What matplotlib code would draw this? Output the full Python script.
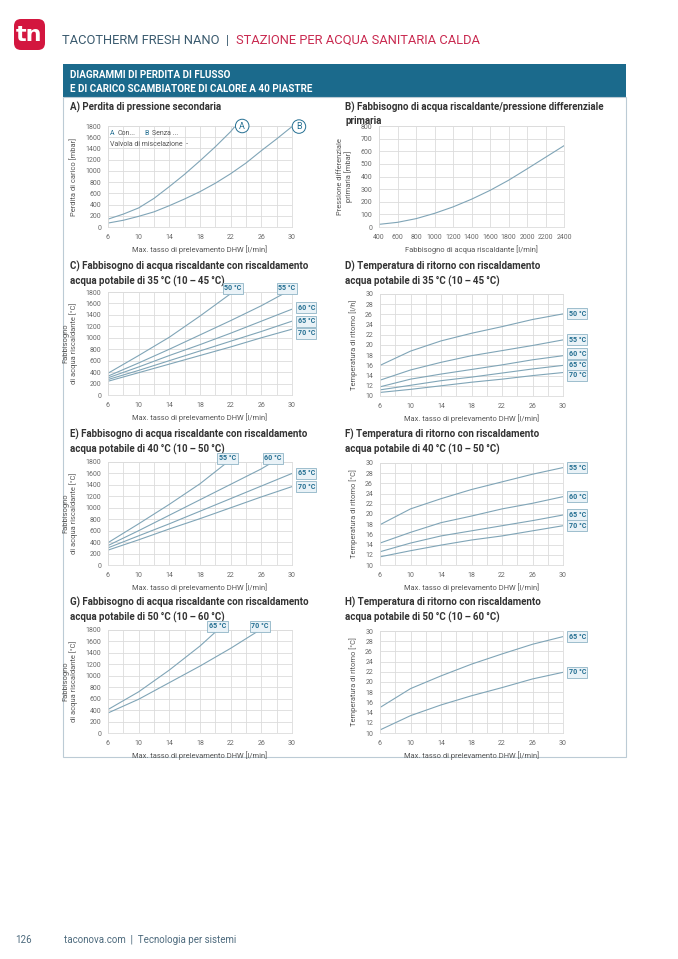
import matplotlib
matplotlib.use('Agg')
import matplotlib.pyplot as plt
from matplotlib import font_manager
from matplotlib.patches import Rectangle, FancyBboxPatch

# page size in pixels
W, H = 678, 959

names = {f.name for f in font_manager.fontManager.ttflist}
FONT = 'Liberation Sans Narrow' if 'Liberation Sans Narrow' in names else 'Roboto'
plt.rcParams['font.family'] = [FONT, 'DejaVu Sans']

LINE = '#80a5b7'
GRID = '#dcdcdc'
TXT = '#333333'
TICK = '#6a6a6a'
TEAL = '#246f92'
RED = '#c92a50'
SLATE = '#3a5a6e'
BAR = '#1b6a8c'
TS = '\u2009'  # thin space

# ---- data ----
flow_x = [6, 10, 14, 18, 22, 26, 30]

# A) pressure loss secondary
a_con_x = [6, 8, 10, 12, 14, 16, 18, 20, 22, 22.6]
a_con_y = [140, 230, 340, 510, 720, 940, 1180, 1430, 1700, 1800]
a_senza_x = [6, 8, 10, 12, 14, 16, 18, 20, 22, 24, 26, 28, 30]
a_senza_y = [70, 120, 190, 270, 380, 500, 630, 780, 950, 1140, 1360, 1570, 1790]

# B) primary differential pressure
b_x = [400, 600, 800, 1000, 1200, 1400, 1600, 1800, 2000, 2200, 2400]
b_y = [21, 37, 66, 108, 159, 220, 290, 370, 460, 552, 644]

# C) demand, DHW 35 °C
c_labels = ['50 °C', '55 °C', '60 °C', '65 °C', '70 °C']
c_x = [[6, 10, 14, 18, 22.3],
       [6, 10, 14, 18, 22, 26, 29.3],
       flow_x, flow_x, flow_x]
c_y = [[380, 690, 1010, 1380, 1800],
       [330, 560, 800, 1050, 1300, 1560, 1800],
       [300, 490, 690, 880, 1080, 1290, 1500],
       [270, 430, 600, 770, 940, 1110, 1290],
       [240, 390, 540, 690, 840, 1000, 1150]]

# D) return temperature, DHW 35 °C
d_labels = ['50 °C', '55 °C', '60 °C', '65 °C', '70 °C']
d_y = [[16.0, 18.8, 20.8, 22.3, 23.6, 25.0, 26.1],
       [13.1, 15.1, 16.6, 17.9, 18.9, 19.9, 21.0],
       [11.8, 13.3, 14.3, 15.2, 16.1, 17.1, 17.9],
       [11.2, 12.1, 13.0, 13.7, 14.5, 15.3, 16.0],
       [10.7, 11.3, 12.0, 12.7, 13.3, 14.0, 14.6]]

# E) demand, DHW 40 °C
e_labels = ['55 °C', '60 °C', '65 °C', '70 °C']
e_x = [[6, 10, 14, 18, 21.6],
       [6, 10, 14, 18, 22, 26, 27.5],
       flow_x, flow_x]
e_y = [[390, 720, 1060, 1420, 1800],
       [340, 600, 870, 1140, 1410, 1680, 1800],
       [300, 510, 720, 940, 1160, 1380, 1600],
       [260, 440, 630, 810, 1000, 1190, 1370]]

# F) return temperature, DHW 40 °C
f_labels = ['55 °C', '60 °C', '65 °C', '70 °C']
f_y = [[17.9, 21.0, 23.0, 24.8, 26.3, 27.8, 29.1],
       [14.3, 16.4, 18.3, 19.6, 21.0, 22.1, 23.4],
       [12.6, 14.3, 15.7, 16.7, 17.7, 18.7, 19.8],
       [11.6, 12.8, 13.9, 14.9, 15.7, 16.7, 17.7]]

# G) demand, DHW 50 °C
g_labels = ['65 °C', '70 °C']
g_x = [[6, 10, 14, 18, 20.3],
       [6, 10, 14, 18, 22, 25.8]]
g_y = [[410, 720, 1100, 1520, 1800],
       [350, 590, 880, 1170, 1480, 1800]]

# H) return temperature, DHW 50 °C
h_labels = ['65 °C', '70 °C']
h_y = [[15.0, 18.7, 21.2, 23.5, 25.5, 27.4, 28.9],
       [10.6, 13.4, 15.5, 17.3, 18.9, 20.6, 21.9]]

XLAB = 'Max. tasso di prelevamento DHW [l/min]'
YDEM = 'Fabbisogno\ndi acqua riscaldante [°C]'
YRET = 'Temperatura di ritorno [°C]'

fig = plt.figure(figsize=(W / 100, H / 100), dpi=100)

# background layer in pixel coordinates
bg = fig.add_axes([0, 0, 1, 1])
bg.set_xlim(0, W)
bg.set_ylim(H, 0)
bg.axis('off')

bg.add_patch(FancyBboxPatch((14, 19), 31, 31, boxstyle='round,pad=0,rounding_size=7',
                            facecolor='#d3163f', edgecolor='none'))
bg.text(29.5, 35, 'tn', color='white', fontsize=16, fontweight='bold',
        ha='center', va='center', family=['DejaVu Sans'])
t1 = bg.text(62, 40, 'TACOTHERM FRESH NANO  |  ', color=SLATE, fontsize=9.3, va='center')
bg.annotate('STAZIONE PER ACQUA SANITARIA CALDA', xy=(1, 0.5), xycoords=t1,
            color=RED, fontsize=9.3, va='center')

bg.add_patch(Rectangle((63, 64), 563, 33, facecolor=BAR, edgecolor='none'))
bg.text(70, 75, 'DIAGRAMMI DI PERDITA DI FLUSSO', color='white', fontsize=7.1,
        fontweight='bold', va='center')
bg.text(70, 89, 'E DI CARICO SCAMBIATORE DI CALORE A 40 PIASTRE', color='white',
        fontsize=7.1, fontweight='bold', va='center')
bg.add_patch(Rectangle((63, 97), 563, 660, fill=False, edgecolor='#bccbd5', lw=0.8))

bg.text(15, 940, '126', color='#4d6a7d', fontsize=7, va='center')
bg.text(64, 940, 'taconova.com  |  Tecnologia per sistemi', color='#4d6a7d',
        fontsize=7, va='center')


def sub(t, lo, hi):
    return f'acqua potabile di {t}{TS}°C ({lo}{TS}–{TS}{hi}{TS}°C)'


titles = [
    (70, 108, 'A) Perdita di pressione secondaria'),
    (345, 108, 'B) Fabbisogno di acqua riscaldante/pressione differenziale\nprimaria'),
    (70, 267, 'C) Fabbisogno di acqua riscaldante con riscaldamento\n' + sub(35, 10, 45)),
    (345, 267, 'D) Temperatura di ritorno con riscaldamento\n' + sub(35, 10, 45)),
    (70, 435, 'E) Fabbisogno di acqua riscaldante con riscaldamento\n' + sub(40, 10, 50)),
    (345, 435, 'F) Temperatura di ritorno con riscaldamento\n' + sub(40, 10, 50)),
    (70, 603, 'G) Fabbisogno di acqua riscaldante con riscaldamento\n' + sub(50, 10, 60)),
    (345, 603, 'H) Temperatura di ritorno con riscaldamento\n' + sub(50, 10, 60)),
]
for tx, ty, s in titles:
    bg.text(tx, ty - 6, s, color=TXT, fontsize=7.0, fontweight='bold', va='top',
            linespacing=1.36)


def make_ax(x0, y0, x1, y1):
    return fig.add_axes([x0 / W, 1 - y1 / H, (x1 - x0) / W, (y1 - y0) / H])


def style(ax, xlim, ylim, xmaj, xmin, ymaj, xlabel, ylabel):
    ax.set_xlim(*xlim)
    ax.set_ylim(*ylim)
    ax.set_xticks(xmaj)
    ax.set_xticks(xmin, minor=True)
    ax.set_yticks(ymaj)
    ax.grid(True, which='both', color=GRID, lw=0.6)
    ax.set_axisbelow(True)
    ax.tick_params(which='both', length=0, labelsize=5, colors=TICK, pad=5)
    for sp in ax.spines.values():
        sp.set_color(GRID)
        sp.set_linewidth(0.6)
    ax.set_xlabel(xlabel, fontsize=5.4, color='#555555', labelpad=3)
    ax.set_ylabel(ylabel, fontsize=5.4, color='#555555', labelpad=5, linespacing=1.1)


def tag(ax, s, x, y, where, nudge=0):
    kw = dict(fontsize=5.1, fontweight='bold', color=TEAL, annotation_clip=False,
              textcoords='offset points',
              bbox=dict(boxstyle='square,pad=0.22', facecolor='#e9f2f7',
                        edgecolor='#8fb4c6', lw=0.6))
    if where == 'top':
        ax.annotate(s, xy=(x, y), xytext=(0, -0.3), ha='center', va='bottom', **kw)
    else:
        ax.annotate(s, xy=(x, y), xytext=(4, nudge), ha='left', va='center', **kw)


flow_maj = list(range(6, 31, 4))
flow_min = list(range(6, 31, 2))
dem_y = list(range(0, 1801, 200))
ret_y = list(range(10, 31, 2))

# A
ax = make_ax(108, 126, 292, 227)
style(ax, (6, 30), (0, 1800), flow_maj, flow_min, dem_y, XLAB, 'Perdita di carico [mbar]')
ax.plot(a_con_x, a_con_y, color=LINE, lw=0.8)
ax.plot(a_senza_x, a_senza_y, color=LINE, lw=0.8)
for lx, ly, s in [(a_con_x[-1], a_con_y[-1], 'A'), (a_senza_x[-1], a_senza_y[-1], 'B')]:
    ax.annotate(s, xy=(lx, ly), xytext=(5, 0), textcoords='offset points',
                ha='center', va='center', fontsize=6.5, color=TEAL, annotation_clip=False,
                bbox=dict(boxstyle='circle,pad=0.25', facecolor='white',
                          edgecolor=TEAL, lw=0.7))
ax.text(0.01, 0.93, 'A', transform=ax.transAxes, fontsize=5, color=TEAL, va='center')
ax.text(0.05, 0.93, 'Con...', transform=ax.transAxes, fontsize=5, color='#555555', va='center')
ax.text(0.20, 0.93, 'B', transform=ax.transAxes, fontsize=5, color=TEAL, va='center')
ax.text(0.24, 0.93, 'Senza ...', transform=ax.transAxes, fontsize=5, color='#555555', va='center')
ax.text(0.01, 0.82, 'Valvola di miscelazione  -', transform=ax.transAxes, fontsize=5,
        color='#555555', va='center')

# B
ax = make_ax(379, 126, 564, 227)
style(ax, (400, 2400), (0, 800), list(range(400, 2401, 200)), [], list(range(0, 801, 100)),
      'Fabbisogno di acqua riscaldante [l/min]', 'Pressione differenziale\nprimaria [mbar]')
ax.plot(b_x, b_y, color=LINE, lw=0.8)

# C
ax = make_ax(108, 292, 292, 395)
style(ax, (6, 30), (0, 1800), flow_maj, flow_min, dem_y, XLAB, YDEM)
c_nudge = [0, 0, 1, 0, -3]
for xs, ys, lab, nd in zip(c_x, c_y, c_labels, c_nudge):
    ax.plot(xs, ys, color=LINE, lw=0.8)
    tag(ax, lab, xs[-1], ys[-1], 'top' if ys[-1] >= 1800 else 'right', nd)

# D
ax = make_ax(380, 294, 563, 396)
style(ax, (6, 30), (10, 30), flow_maj, flow_min, ret_y, XLAB, 'Temperatura di ritorno [l/h]')
d_nudge = [0, 0, 1.5, 0, -2]
for ys, lab, nd in zip(d_y, d_labels, d_nudge):
    ax.plot(flow_x, ys, color=LINE, lw=0.8)
    tag(ax, lab, flow_x[-1], ys[-1], 'right', nd)

# E
ax = make_ax(108, 462, 292, 565)
style(ax, (6, 30), (0, 1800), flow_maj, flow_min, dem_y, XLAB, YDEM)
for xs, ys, lab in zip(e_x, e_y, e_labels):
    ax.plot(xs, ys, color=LINE, lw=0.8)
    tag(ax, lab, xs[-1], ys[-1], 'top' if ys[-1] >= 1800 else 'right')

# F
ax = make_ax(380, 463, 563, 565)
style(ax, (6, 30), (10, 30), flow_maj, flow_min, ret_y, XLAB, YRET)
for ys, lab in zip(f_y, f_labels):
    ax.plot(flow_x, ys, color=LINE, lw=0.8)
    tag(ax, lab, flow_x[-1], ys[-1], 'right')

# G
ax = make_ax(108, 630, 292, 733)
style(ax, (6, 30), (0, 1800), flow_maj, flow_min, dem_y, XLAB, YDEM)
for xs, ys, lab in zip(g_x, g_y, g_labels):
    ax.plot(xs, ys, color=LINE, lw=0.8)
    tag(ax, lab, xs[-1], ys[-1], 'top')

# H
ax = make_ax(380, 631, 563, 733)
style(ax, (6, 30), (10, 30), flow_maj, flow_min, ret_y, XLAB, YRET)
for ys, lab in zip(h_y, h_labels):
    ax.plot(flow_x, ys, color=LINE, lw=0.8)
    tag(ax, lab, flow_x[-1], ys[-1], 'right')

fig.savefig('out.png', dpi=100)
